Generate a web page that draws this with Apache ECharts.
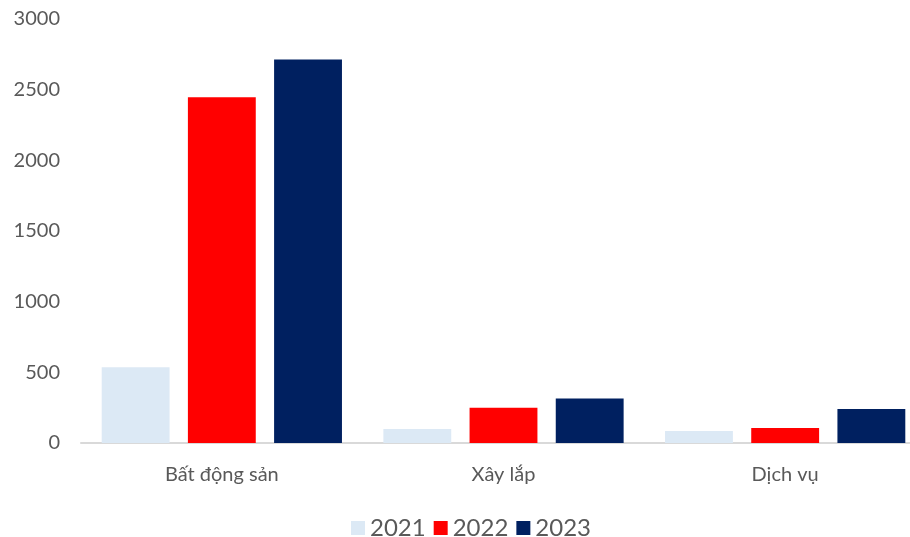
<!DOCTYPE html>
<html>
<head>
<meta charset="utf-8">
<script src="https://cdn.jsdelivr.net/npm/echarts@6/dist/echarts.min.js"></script>
<style>
  html, body { margin: 0; padding: 0; background: #fff; overflow: hidden; width: 910px; height: 537px; }
  /* chart is cut off on the right in the reference, so the canvas runs past the window */
  #chart { width: 926px; height: 537px; }
</style>
</head>
<body>
<div id="chart"></div>
<script>
var categories = ['Bất động sản', 'Xây lắp', 'Dịch vụ'];
var years = ['2021', '2022', '2023'];
var values2021 = [536, 99, 85];
var values2022 = [2447, 250, 106];
var values2023 = [2713, 314, 241];
var colors = ['#dce9f5', '#ff0000', '#002060'];

var myChart = echarts.init(document.getElementById('chart'));

var seriesData = [values2021, values2022, values2023];
var series = years.map(function (y, i) {
  return {
    name: y,
    type: 'bar',
    data: seriesData[i],
    barGap: '27%',
    barCategoryGap: '14.7%',
    itemStyle: { color: colors[i] }
  };
});

var option = {
  backgroundColor: '#ffffff',
  textStyle: { fontFamily: 'Lato' },
  grid: { left: 81, right: 0, top: 19, bottom: 94, containLabel: false },
  legend: {
    data: years,
    left: 346,
    top: 511,
    itemWidth: 14,
    itemHeight: 14,
    itemGap: 8,
    icon: 'rect',
    textStyle: { fontSize: 24, color: '#595959', fontFamily: 'Lato' }
  },
  xAxis: {
    type: 'category',
    data: categories,
    axisLine: { lineStyle: { color: '#d9d9d9', width: 2 } },
    axisTick: { show: false },
    axisLabel: { fontSize: 20, color: '#595959', margin: 22, fontFamily: 'Lato' }
  },
  yAxis: {
    type: 'value',
    min: 0,
    max: 3000,
    interval: 500,
    splitLine: { show: false },
    axisLine: { show: false },
    axisTick: { show: false },
    axisLabel: {
      fontSize: 20, color: '#595959', margin: 21, fontFamily: 'Lato',
      formatter: function (v) { return String(v); }
    }
  },
  series: series
};
myChart.setOption(option);
</script>
</body>
</html>
